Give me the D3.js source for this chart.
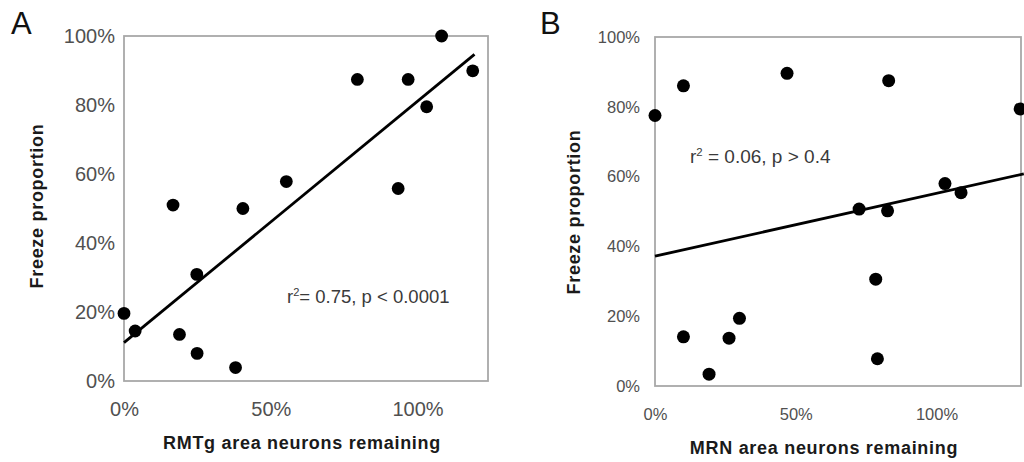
<!DOCTYPE html>
<html>
<head>
<meta charset="utf-8">
<script src="https://cdn.jsdelivr.net/npm/d3@7"></script>
<style>
  html, body { margin: 0; padding: 0; background: #fff; }
  svg { display: block; }
  text { font-family: "Liberation Sans", Arial, sans-serif; }
</style>
</head>
<body>
<svg id="chart" width="1024" height="462"></svg>
<script>
// ---------- Data ----------
// Panel A: RMTg area neurons remaining vs freeze proportion
const rmtgX = [1.082, 1.188, 0.795, 0.968, 1.031, 0.553, 0.934, 0.167, 0.405, 0.248, 0.000, 0.038, 0.189, 0.249, 0.380];
const rmtgY = [1.000, 0.899, 0.874, 0.874, 0.795, 0.578, 0.558, 0.510, 0.500, 0.309, 0.196, 0.145, 0.135, 0.080, 0.039];
const rmtgFit = { intercept: 0.111, slope: 0.70, xEnd: 1.194 };
const rmtgStat = ["r", "2", "= 0.75, p < 0.0001"];

// Panel B: MRN area neurons remaining vs freeze proportion
const mrnX = [0.000, 0.101, 0.469, 0.830, 1.297, 1.030, 1.087, 0.725, 0.826, 0.784, 0.300, 0.101, 0.263, 0.790, 0.192];
const mrnY = [0.775, 0.860, 0.896, 0.875, 0.794, 0.580, 0.554, 0.507, 0.502, 0.306, 0.194, 0.141, 0.137, 0.078, 0.034];
const mrnFit = { intercept: 0.372, slope: 0.18, xEnd: 1.31 };
const mrnStat = ["r", "2", " = 0.06, p > 0.4"];

const yTicks = [0, 0.2, 0.4, 0.6, 0.8, 1.0];
const xTicks = [0, 0.5, 1.0];
const yTitle = "Freeze proportion";
const xTitleA = "RMTg area neurons remaining";
const xTitleB = "MRN area neurons remaining";

// ---------- Drawing ----------
const svg = d3.select("#chart");
const pct = d3.format(".0%");

function panel(cfg) {
  const g = svg.append("g");
  const x = d3.scaleLinear().domain(cfg.xDomain).range([cfg.left, cfg.right]);
  const y = d3.scaleLinear().domain([0, 1]).range([cfg.bottom, cfg.top]);

  // frame
  g.append("rect")
    .attr("x", cfg.left).attr("y", cfg.top)
    .attr("width", cfg.right - cfg.left).attr("height", cfg.bottom - cfg.top)
    .attr("fill", "none").attr("stroke", "#a8a8a8").attr("stroke-width", 1.8);

  // y axis
  const ya = g.append("g").attr("transform", `translate(${cfg.left},0)`)
    .call(d3.axisLeft(y).tickValues(yTicks).tickFormat(pct).tickSize(0).tickPadding(cfg.yPad));
  ya.select(".domain").remove();
  ya.selectAll("text").attr("font-size", cfg.tickFont).attr("fill", "#505050")
    .attr("font-family", "Liberation Sans, Arial, sans-serif");

  // x axis
  const xa = g.append("g").attr("transform", `translate(0,${cfg.bottom})`)
    .call(d3.axisBottom(x).tickValues(xTicks).tickFormat(pct).tickSize(0).tickPadding(cfg.xPad));
  xa.select(".domain").remove();
  xa.selectAll("text").attr("font-size", cfg.tickFont).attr("fill", "#505050")
    .attr("font-family", "Liberation Sans, Arial, sans-serif");

  // regression line
  const fit = cfg.fit;
  g.append("line")
    .attr("x1", x(0)).attr("y1", y(fit.intercept))
    .attr("x2", x(fit.xEnd)).attr("y2", y(fit.intercept + fit.slope * fit.xEnd))
    .attr("stroke", "#000").attr("stroke-width", 2.8);

  // points
  g.selectAll("circle.pt").data(cfg.xs.map((v, i) => [v, cfg.ys[i]]))
    .join("circle").attr("class", "pt")
    .attr("cx", d => x(d[0])).attr("cy", d => y(d[1]))
    .attr("r", cfg.r).attr("fill", "#000");

  // stats text
  const st = g.append("text")
    .attr("x", cfg.statX).attr("y", cfg.statY)
    .attr("font-size", cfg.statFont).attr("fill", "#3a3a3a");
  st.append("tspan").text(cfg.stat[0]);
  st.append("tspan").attr("dy", -7).attr("font-size", cfg.statFont * 0.6).text(cfg.stat[1]);
  st.append("tspan").attr("dy", 7).text(cfg.stat[2]);

  // axis titles
  g.append("text")
    .attr("x", cfg.xTitleX).attr("y", cfg.xTitleY)
    .attr("text-anchor", "middle").attr("font-weight", "bold")
    .attr("font-size", cfg.titleFont).attr("fill", "#1a1a1a")
    .attr("letter-spacing", 0.7)
    .text(cfg.xTitle);
  g.append("text")
    .attr("transform", `translate(${cfg.yTitleX},${cfg.yTitleY}) rotate(-90)`)
    .attr("text-anchor", "middle").attr("font-weight", "bold")
    .attr("font-size", cfg.titleFont).attr("fill", "#1a1a1a")
    .attr("letter-spacing", 0.7)
    .text(yTitle);

  // panel letter
  g.append("text")
    .attr("x", cfg.letterX).attr("y", cfg.letterY)
    .attr("font-family", "Lato, 'Open Sans', sans-serif")
    .attr("font-size", 31).attr("fill", "#111")
    .text(cfg.letter);
}

panel({
  letter: "A", letterX: 11, letterY: 34,
  xDomain: [0, 1.24], left: 124, right: 488, top: 36, bottom: 381,
  xs: rmtgX, ys: rmtgY, fit: rmtgFit, r: 6.4,
  tickFont: 20, yPad: 9, xPad: 21,
  stat: rmtgStat, statX: 287, statY: 303, statFont: 18.5,
  xTitle: xTitleA, xTitleX: 302, xTitleY: 449,
  yTitleX: 43, yTitleY: 206, titleFont: 18
});

panel({
  letter: "B", letterX: 540, letterY: 34,
  xDomain: [0, 1.3], left: 655, right: 1021, top: 37, bottom: 386,
  xs: mrnX, ys: mrnY, fit: mrnFit, r: 6.5,
  tickFont: 16.5, yPad: 15, xPad: 22,
  stat: mrnStat, statX: 690, statY: 163, statFont: 19,
  xTitle: xTitleB, xTitleX: 824, xTitleY: 454,
  yTitleX: 580, yTitleY: 212, titleFont: 18
});
</script>
</body>
</html>
